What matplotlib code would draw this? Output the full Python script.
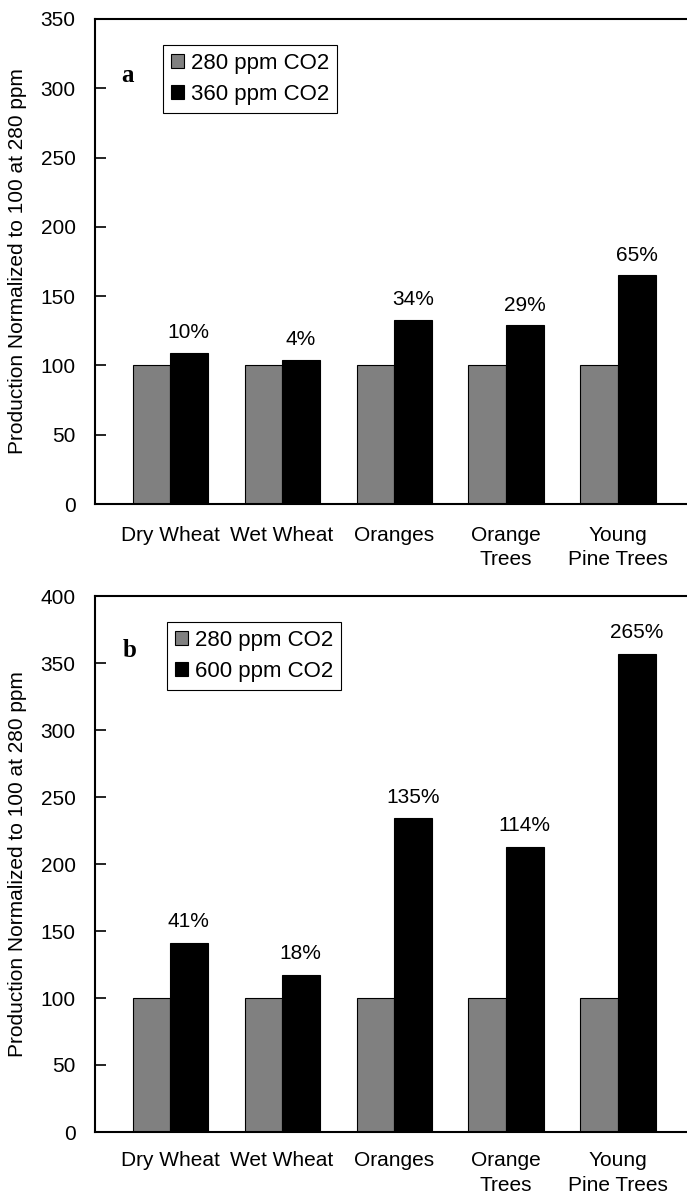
import matplotlib.pyplot as plt
import numpy as np
from matplotlib import font_manager

categories = ['Dry Wheat', 'Wet Wheat', 'Oranges', 'Orange\nTrees', 'Young\nPine Trees']
base_a = [100, 100, 100, 100, 100]
high_a = [109, 104, 133, 129, 165]
pct_a = ['10%', '4%', '34%', '29%', '65%']
base_b = [100, 100, 100, 100, 100]
high_b = [141, 117, 234, 213, 357]
pct_b = ['41%', '18%', '135%', '114%', '265%']

names = {f.name for f in font_manager.fontManager.ttflist}
narrow = 'Liberation Sans Narrow' if 'Liberation Sans Narrow' in names else 'Liberation Sans'
plt.rcParams['font.family'] = ['Liberation Sans', 'DejaVu Sans']

fig = plt.figure(figsize=(6.87, 11.99), dpi=100)
W, H = 687, 1199


def panel(rect, base, high, pct, ymax, letter, leg_label, leg_box, letter_xy, xpad):
    l, t, r, b = rect
    ax = fig.add_axes([l / W, 1 - b / H, (r - l) / W, (b - t) / H])
    x = np.arange(len(categories))
    w = 0.335
    ax.bar(x - w / 2, base, w, color='#808080', edgecolor='black', linewidth=0.8, label='280 ppm CO2')
    ax.bar(x + w / 2, high, w, color='black', edgecolor='black', linewidth=0.8, label=leg_label)
    for xi, v, s in zip(x, high, pct):
        ax.text(xi + w / 2, v + ymax * 0.022, s, ha='center', va='bottom', fontsize=15)
    ax.set_xlim(-0.67, 4.616)
    ax.set_ylim(0, ymax)
    ax.set_yticks(np.arange(0, ymax + 1, 50))
    ax.set_xticks(x)
    ax.set_xticklabels(categories, fontsize=15, va='top', linespacing=1.35)
    ax.tick_params(axis='x', length=0, pad=xpad)
    ax.tick_params(axis='y', direction='in', length=8, width=1.2, labelsize=15, pad=14)
    for s in ['left', 'bottom', 'top']:
        ax.spines[s].set_linewidth(1.5)
    ax.spines['right'].set_visible(False)
    ax.set_ylabel('Production Normalized to 100 at 280 ppm', fontsize=15, family=narrow)
    ax.yaxis.set_label_coords(-(95 - 27) / (r - l), 0.5)
    lx0, ly0, lx1, ly1 = leg_box
    leg = ax.legend(loc='upper left',
                    bbox_to_anchor=((lx0 - l) / (r - l), 1 - (ly0 - t) / (b - t)),
                    fontsize=16, frameon=True, fancybox=False, framealpha=1,
                    edgecolor='black', handlelength=0.6, handleheight=0.6,
                    handletextpad=0.3, borderpad=0.35, labelspacing=0.45, borderaxespad=0)
    leg.get_frame().set_linewidth(0.8)
    ax.text((letter_xy[0] - l) / (r - l), 1 - (letter_xy[1] - t) / (b - t), letter,
            transform=ax.transAxes, ha='center', va='center', fontsize=18,
            fontweight='bold', family=['Liberation Serif', 'DejaVu Serif'])
    return ax


panel((95, 19, 687, 504), base_a, high_a, pct_a, 350, 'a', '360 ppm CO2',
      (163, 45, 340, 117), (127, 75), 16)
panel((95, 596, 687, 1132), base_b, high_b, pct_b, 400, 'b', '600 ppm CO2',
      (167, 622, 338, 693), (130, 650), 14)

fig.savefig('out.png', dpi=100)
